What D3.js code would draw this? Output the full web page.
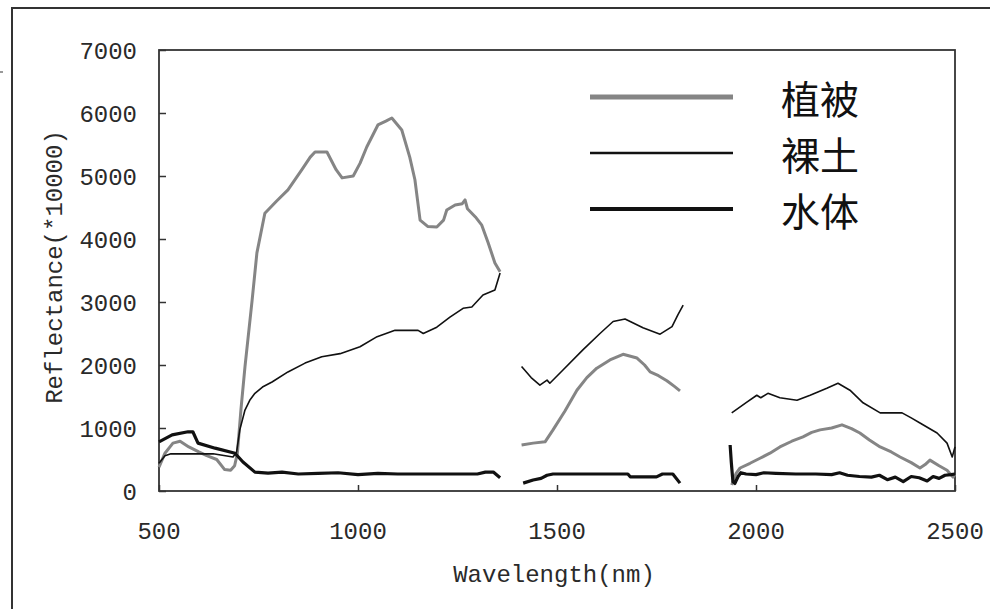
<!DOCTYPE html>
<html>
<head>
<meta charset="utf-8">
<script src="https://cdn.jsdelivr.net/npm/d3@7/dist/d3.min.js"></script>
<style>
  body { margin: 0; background: #fff; }
  text { fill: #2a2a2a; }
</style>
</head>
<body>
<div id="chart"></div>
<script>
// reflectance spectra, three band segments each (water absorption gaps removed)
var xTicks = [500, 1000, 1500, 2000, 2500];
var yTicks = [0, 1000, 2000, 3000, 4000, 5000, 6000, 7000];
var legendNames = ["植被", "裸土", "水体"];

var vegetation = [
    [[500, 380], [515, 600], [535, 760], [553, 790], [575, 700], [600, 620], [620, 560], [645, 500],
     [665, 340], [680, 330], [690, 400], [697, 600], [706, 1300], [716, 1970], [734, 3030], [746, 3780],
     [766, 4410], [795, 4600], [824, 4780], [859, 5100], [880, 5300], [892, 5380], [922, 5380],
     [945, 5100], [960, 4970], [988, 5000], [1005, 5200], [1022, 5460], [1050, 5810], [1070, 5870],
     [1085, 5920], [1110, 5730], [1130, 5300], [1143, 4940], [1156, 4300], [1175, 4200], [1198, 4190],
     [1215, 4300], [1223, 4460], [1244, 4540], [1262, 4560], [1269, 4620], [1275, 4480], [1295, 4350],
     [1311, 4220], [1327, 3940], [1344, 3620], [1357, 3480]],
    [[1411, 730], [1440, 760], [1470, 780], [1490, 970], [1520, 1270], [1550, 1600], [1575, 1800],
     [1600, 1950], [1633, 2080], [1666, 2170], [1701, 2110], [1720, 2000], [1734, 1890], [1755, 1830],
     [1776, 1750], [1795, 1660], [1809, 1590]],
    [[1939, 95], [1950, 280], [1960, 365], [1985, 440], [2010, 520], [2035, 600], [2060, 700],
     [2090, 790], [2118, 860], [2140, 930], [2161, 970], [2190, 1000], [2216, 1050], [2240, 990],
     [2261, 920], [2285, 810], [2312, 700], [2340, 620], [2362, 540], [2390, 450], [2412, 365],
     [2425, 420], [2437, 490], [2460, 400], [2480, 330], [2495, 220], [2500, 260]]
];

var soil = [
    [[500, 440], [515, 560], [530, 590], [580, 590], [636, 590], [686, 540], [695, 620], [703, 970],
     [716, 1285], [728, 1440], [741, 1550], [760, 1650], [784, 1730], [824, 1890], [867, 2030],
     [909, 2130], [955, 2180], [1005, 2290], [1048, 2450], [1093, 2550], [1151, 2550], [1164, 2500],
     [1198, 2600], [1231, 2760], [1264, 2900], [1286, 2920], [1314, 3110], [1344, 3190], [1357, 3460]],
    [[1411, 1975], [1435, 1800], [1457, 1680], [1475, 1760], [1482, 1710], [1515, 1920], [1565, 2240],
     [1608, 2500], [1641, 2690], [1671, 2730], [1716, 2590], [1759, 2490], [1789, 2610], [1804, 2800],
     [1817, 2950]],
    [[1939, 1240], [1977, 1410], [2002, 1520], [2012, 1480], [2030, 1550], [2060, 1480], [2103, 1440],
     [2136, 1520], [2178, 1630], [2206, 1710], [2236, 1600], [2269, 1400], [2312, 1240], [2367, 1240],
     [2390, 1160], [2412, 1080], [2455, 920], [2480, 760], [2493, 540], [2500, 700]]
];

var water = [
    [[500, 780], [533, 890], [573, 940], [585, 940], [598, 760], [641, 680], [691, 600], [711, 460],
     [741, 300], [774, 285], [809, 300], [850, 270], [900, 280], [950, 290], [1000, 260], [1050, 280],
     [1100, 270], [1150, 270], [1200, 270], [1250, 270], [1300, 270], [1320, 300], [1340, 300],
     [1357, 210]],
    [[1415, 125], [1440, 175], [1460, 200], [1475, 250], [1490, 270], [1550, 270], [1620, 270],
     [1678, 270], [1684, 225], [1750, 225], [1765, 270], [1791, 270], [1809, 125]],
    [[1935, 730], [1938, 450], [1942, 150], [1947, 120], [1955, 230], [1962, 290], [1975, 270],
     [2000, 260], [2020, 290], [2050, 280], [2100, 270], [2150, 270], [2190, 260], [2210, 290],
     [2230, 250], [2260, 230], [2290, 220], [2310, 250], [2330, 180], [2350, 220], [2370, 150],
     [2390, 230], [2410, 210], [2430, 160], [2445, 230], [2460, 200], [2475, 250], [2490, 260],
     [2500, 270]]
];

var width = 990, height = 609;
var margin = {top: 50, right: 35, bottom: 118, left: 159};

var svg = d3.select("#chart").append("svg")
    .attr("width", width)
    .attr("height", height);

// outer frame (cut off at right and bottom)
svg.append("rect")
    .attr("x", 12).attr("y", 8)
    .attr("width", 1000).attr("height", 620)
    .attr("fill", "none")
    .attr("stroke", "#333")
    .attr("stroke-width", 2);

svg.append("line")
    .attr("x1", 0).attr("x2", 3).attr("y1", 72).attr("y2", 72)
    .attr("stroke", "#777").attr("stroke-width", 1.5);

var x = d3.scaleLinear().domain([500, 2500]).range([margin.left, width - margin.right]);
var y = d3.scaleLinear().domain([0, 7000]).range([height - margin.bottom, margin.top]);

var g = svg.append("g");

// plot frame
g.append("rect")
    .attr("x", x(500)).attr("y", y(7000))
    .attr("width", x(2500) - x(500))
    .attr("height", y(0) - y(7000))
    .attr("fill", "none")
    .attr("stroke", "#333")
    .attr("stroke-width", 1.8);

var yAxis = g.append("g")
    .attr("transform", "translate(" + x(500) + ",0)")
    .call(d3.axisRight(y).tickValues(yTicks).tickSize(7).tickFormat(""));
yAxis.select(".domain").remove();
yAxis.selectAll("line").attr("stroke", "#333").attr("stroke-width", 1.5);

var xAxis = g.append("g")
    .attr("transform", "translate(0," + y(0) + ")")
    .call(d3.axisTop(x).tickValues(xTicks).tickSize(6).tickFormat(""));
xAxis.select(".domain").remove();
xAxis.selectAll("line").attr("stroke", "#333").attr("stroke-width", 1.5);

var font = "'Liberation Mono', 'DejaVu Sans Mono', monospace";

g.selectAll(".ylab").data(yTicks).enter().append("text")
    .attr("class", "ylab")
    .attr("x", 137)
    .attr("y", function (d) { return y(d) + 3; })
    .attr("text-anchor", "end")
    .attr("dominant-baseline", "middle")
    .style("font-family", font)
    .style("font-size", "24px")
    .text(function (d) { return d; });

g.selectAll(".xlab").data(xTicks).enter().append("text")
    .attr("class", "xlab")
    .attr("x", function (d) { return x(d); })
    .attr("y", 539)
    .attr("text-anchor", "middle")
    .style("font-family", font)
    .style("font-size", "24px")
    .text(function (d) { return d; });

svg.append("text")
    .attr("x", 554).attr("y", 582)
    .attr("text-anchor", "middle")
    .style("font-family", font)
    .style("font-size", "24px")
    .text("Wavelength(nm)");

svg.append("text")
    .attr("transform", "translate(62,267) rotate(-90)")
    .attr("text-anchor", "middle")
    .style("font-family", font)
    .style("font-size", "24px")
    .text("Reflectance(*10000)");

var line = d3.line()
    .x(function (d) { return x(d[0]); })
    .y(function (d) { return y(d[1]); });

var series = [
    {name: legendNames[0], data: vegetation, color: "#858585", width: 3},
    {name: legendNames[1], data: soil, color: "#111", width: 1.6},
    {name: legendNames[2], data: water, color: "#111", width: 3.2}
];

series.forEach(function (s) {
    g.selectAll(null).data(s.data).enter().append("path")
        .attr("d", line)
        .attr("fill", "none")
        .attr("stroke", s.color)
        .attr("stroke-width", s.width)
        .attr("stroke-linejoin", "round");
});

// legend
var legend = svg.append("g");
series.forEach(function (s, i) {
    var ly = 97 + i * 56;
    legend.append("line")
        .attr("x1", 590).attr("x2", 733)
        .attr("y1", ly).attr("y2", ly)
        .attr("stroke", s.color)
        .attr("stroke-width", i === 0 ? 5 : (i === 1 ? 2.5 : 4));
    legend.append("text")
        .attr("x", 781).attr("y", ly)
        .attr("dominant-baseline", "central")
        .style("font-family", "'Noto Sans CJK SC', sans-serif")
        .style("font-size", "39px")
        .style("fill", "#111")
        .text(s.name);
});
</script>
</body>
</html>
